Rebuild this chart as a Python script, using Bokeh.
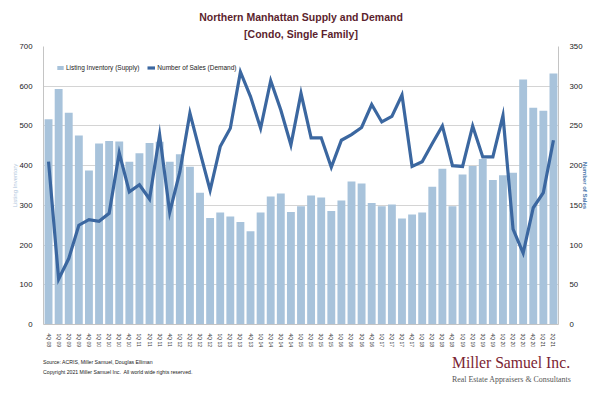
from bokeh.plotting import figure
from bokeh.layouts import column
from bokeh.models import (Range1d, LinearAxis, FixedTicker, Legend, LegendItem,
                          ColumnDataSource, Title, Div)
from bokeh.embed import file_html
from bokeh.resources import INLINE

quarters = ["4Q 08",
            "1Q 09", "2Q 09", "3Q 09", "4Q 09",
            "1Q 10", "2Q 10", "3Q 10", "4Q 10",
            "1Q 11", "2Q 11", "3Q 11", "4Q 11",
            "1Q 12", "2Q 12", "3Q 12", "4Q 12",
            "1Q 13", "2Q 13", "3Q 13", "4Q 13",
            "1Q 14", "2Q 14", "3Q 14", "4Q 14",
            "1Q 15", "2Q 15", "3Q 15", "4Q 15",
            "1Q 16", "2Q 16", "3Q 16", "4Q 16",
            "1Q 17", "2Q 17", "3Q 17", "4Q 17",
            "1Q 18", "2Q 18", "3Q 18", "4Q 18",
            "1Q 19", "2Q 19", "3Q 19", "4Q 19",
            "1Q 20", "2Q 20", "3Q 20", "4Q 20",
            "1Q 21", "2Q 21"]

inventory = [517,
             593, 533, 476, 388,
             456, 462, 461, 410,
             431, 457, 460, 410,
             429, 397, 332, 268,
             282, 272, 258, 235,
             282, 322, 330, 283,
             298, 325, 320, 286,
             312, 360, 355, 306,
             298, 302, 267, 277,
             282, 347, 392, 298,
             378, 399, 417, 364,
             376, 382, 617, 546,
             538, 632]

sales = [205,
         57, 83, 125, 132,
         130, 140, 216, 167,
         176, 158, 239, 141,
         192, 266, 217, 169,
         224, 247, 318, 287,
         247, 307, 270, 226,
         291, 235, 235, 198,
         232, 239, 248, 277,
         255, 262, 289, 199,
         205, 228, 250, 200,
         199, 250, 211, 211,
         263, 120, 90, 147,
         166, 232]

left_ticks = [0, 100, 200, 300, 400, 500, 600, 700]
right_ticks = [0, 50, 100, 150, 200, 250, 300, 350]

BAR = "#a8c3db"
LINE = "#3b67a0"
MAROON = "#5c1f2e"
FONT = "Liberation Sans"
SERIF = "Liberation Serif"

xs = list(range(len(quarters)))
src = ColumnDataSource(dict(x=xs, inv=inventory, sales=sales, q=quarters))

p = figure(width=600, height=350, output_backend="svg", toolbar_location=None,
           x_range=Range1d(-0.5, len(quarters) - 0.5), y_range=Range1d(0, 700),
           min_border_left=43, min_border_right=42, min_border_top=46, min_border_bottom=24,
           background_fill_color="white", border_fill_color="white")
p.outline_line_color = None
p.extra_y_ranges = {"sales": Range1d(0, 350)}

bars = p.vbar(x="x", top="inv", width=0.78, source=src, color=BAR, line_color=None)
ln = p.line(x="x", y="sales", source=src, y_range_name="sales", line_color=LINE,
            line_width=3.2, line_join="miter")

# grid
p.xgrid.grid_line_color = None
p.ygrid.ticker = FixedTicker(ticks=left_ticks)
p.ygrid.grid_line_color = "#d4d4d4"
p.ygrid.grid_line_width = 1

# left axis
ya = p.yaxis[0]
ya.ticker = FixedTicker(ticks=left_ticks)
ya.major_tick_line_color = None
ya.minor_tick_line_color = None
ya.axis_line_color = "#c4c4c4"
ya.major_label_text_font = FONT
ya.major_label_text_font_size = "7.8px"
ya.major_label_text_color = "#222222"
ya.major_label_standoff = 5
ya.axis_label = "Listing Inventory"
ya.axis_label_text_font = FONT
ya.axis_label_text_font_size = "6px"
ya.axis_label_text_font_style = "normal"
ya.axis_label_text_color = "#b0c6dc"
ya.axis_label_standoff = -2

# right axis
ra = LinearAxis(y_range_name="sales", ticker=FixedTicker(ticks=right_ticks))
ra.major_tick_line_color = None
ra.minor_tick_line_color = None
ra.axis_line_color = "#c4c4c4"
ra.major_label_text_font = FONT
ra.major_label_text_font_size = "7.8px"
ra.major_label_text_color = "#222222"
ra.major_label_standoff = 5
ra.axis_label = "Number of Sales"
ra.axis_label_text_font = FONT
ra.axis_label_text_font_size = "6px"
ra.axis_label_text_font_style = "bold"
ra.axis_label_text_color = "#4a76aa"
ra.axis_label_standoff = -4
p.add_layout(ra, "right")

# bottom axis
xa = p.xaxis[0]
xa.ticker = FixedTicker(ticks=xs)
xa.major_label_overrides = {i: q for i, q in zip(xs, quarters)}
xa.major_label_orientation = "vertical"
xa.major_label_text_font = FONT
xa.major_label_text_font_size = "5px"
xa.major_label_text_color = "#333333"
xa.major_tick_line_color = None
xa.minor_tick_line_color = None
xa.axis_line_color = "#c4c4c4"
xa.major_label_standoff = 3

# legend
legend = Legend(items=[LegendItem(label="Listing Inventory (Supply)", renderers=[bars]),
                       LegendItem(label="Number of Sales (Demand)", renderers=[ln])],
                orientation="horizontal", location=(13, 253),
                background_fill_alpha=0, border_line_color=None,
                label_text_font=FONT, label_text_font_size="6.5px",
                label_text_color="#222222", glyph_width=8, glyph_height=5,
                label_height=8, label_standoff=2, spacing=8, padding=0, margin=0)
p.add_layout(legend, "center")

# titles (later added = further from the frame)
p.add_layout(Title(text="[Condo, Single Family]", align="center", text_font=FONT,
                   text_font_size="10.5px", text_font_style="bold",
                   text_color=MAROON, standoff=14), "above")
p.add_layout(Title(text="Northern Manhattan Supply and Demand", align="center",
                   text_font=FONT, text_font_size="10.5px", text_font_style="bold",
                   text_color=MAROON, standoff=-9), "above")

# footer (HTML text, absolutely placed)
footer_html = (
    '<div style="position:relative;width:600px;height:47px;">'
    '<div style="position:absolute;left:43px;top:9px;font-family:\'Liberation Sans\';'
    'font-size:5.2px;line-height:6px;color:#222222;white-space:nowrap;">'
    'Source: ACRIS, Miller Samuel, Douglas Elliman</div>'
    '<div style="position:absolute;left:43px;top:19px;font-family:\'Liberation Sans\';'
    'font-size:5.2px;line-height:6px;color:#222222;white-space:nowrap;">'
    'Copyright 2021 Miller Samuel Inc.&nbsp; All world wide rights reserved.</div>'
    '<div style="position:absolute;left:452px;top:5px;font-family:\'Liberation Serif\';'
    'font-size:15.7px;line-height:16px;color:#7b2432;white-space:nowrap;">'
    'Miller Samuel Inc.</div>'
    '<div style="position:absolute;left:452px;top:25px;font-family:\'Liberation Serif\';'
    'font-size:7.9px;line-height:9px;color:#555555;white-space:nowrap;">'
    'Real Estate Appraisers &amp; Consultants</div>'
    '</div>'
)
footer = Div(text=footer_html, width=600, height=47, margin=0)

layout = column(p, footer, spacing=0)
open("out.html", "w").write(file_html(layout, INLINE))
